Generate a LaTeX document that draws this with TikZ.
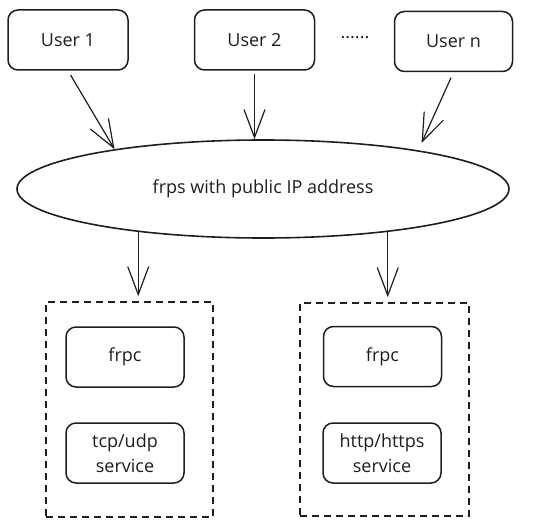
\documentclass[tikz,border=0pt]{standalone}
\usepackage{fontspec}
\setmainfont{Open Sans}
\usepackage{xcolor}
\usepackage{tikz}
\usetikzlibrary{shapes.geometric}
\usetikzlibrary {arrows.meta}
\definecolor{ink}{HTML}{1E1E1E}

\begin{document}
\begin{tikzpicture}[x=1pt,y=-1pt]
        \tikzstyle{every node}=[font=\fontsize{18}{25}\selectfont,text=ink]
        \tikzset{box/.style = {shape=rectangle,draw=ink,line width=1.5pt,rounded corners=10pt,minimum width=118pt,minimum height=60pt,align=center,inner sep=2pt}}
        \tikzset{server/.style = {shape=ellipse,draw=ink,line width=1.6pt,minimum width=492pt,minimum height=98pt,inner sep=0pt}}
        \tikzset{group/.style = {shape=rectangle,draw=ink,line width=1.5pt,dash pattern=on 7pt off 5pt}}
        \tikzset{edge/.style = {draw=ink,line width=1.2pt,-{Straight Barb[length=28pt,width=21pt]}}}
        \useasboundingbox (0,0) rectangle (555,524);
        % vertices
        \node[box,minimum width=120pt] (1) at (68,40) {User 1};
        \node[box,minimum width=120pt] (2) at (254.5,40) {User 2};
        \node[box] (3) at (453.5,41.5) {User n};
        \node (dots) at (355,38) {......};
        \node[server] (frps) at (263,189) {frps with public IP address};
        \node[group,minimum width=167pt,minimum height=215pt] (left) at (129.5,409.5) {};
        \node[group,minimum width=169pt,minimum height=213pt] (right) at (384.5,409.5) {};
        \node[box] (4) at (125,357) {frpc};
        \node[box] (5) at (125,453) {tcp/udp\\service};
        \node[box] (6) at (382.5,356.5) {frpc};
        \node[box] (7) at (382,453) {http/https\\service};
        % edges
        \draw[edge,shorten <=5pt] (1.south) to (frps.165);
        \draw[edge,shorten <=3pt] (2.south) to (2.south |- frps.north);
        \draw[edge,shorten <=6pt,shorten >=8pt] (3.south) to (frps.14);
        \draw[edge,shorten >=5pt] (frps.199) to (frps.199 |- left.north);
        \draw[edge,shorten >=5pt] (frps.341) to (frps.341 |- right.north);
      \end{tikzpicture}
\end{document}
